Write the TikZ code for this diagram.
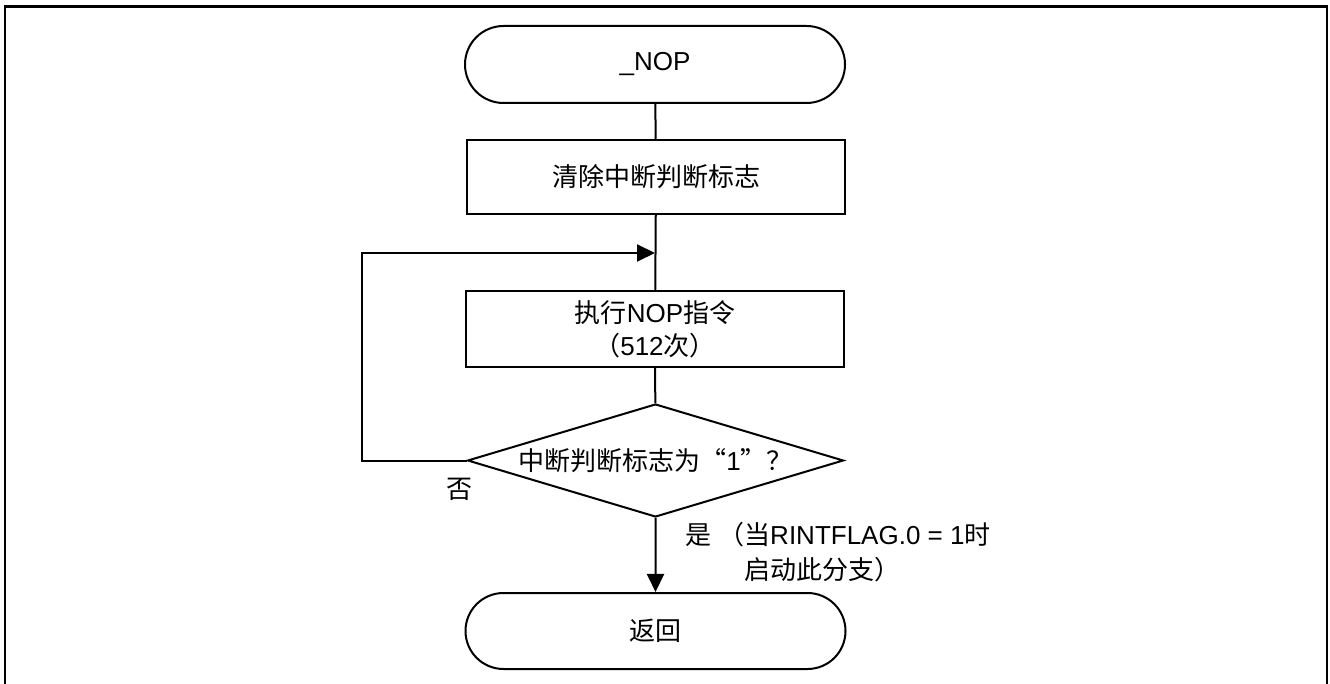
\documentclass[tikz,border=0pt]{standalone}
\usepackage{fontspec}
\setmainfont{Liberation Sans}
\newfontfamily\cjk{Noto Sans CJK SC}
\usetikzlibrary{shapes.geometric,shapes.misc,arrows.meta}
\begin{document}
\begin{tikzpicture}[x=1pt,y=-1pt, line width=2pt,
  term/.style={rounded rectangle, draw, minimum width=380pt, minimum height=77pt, inner sep=0pt},
  proc/.style={rectangle, draw, minimum width=378pt, minimum height=75pt, inner sep=0pt, align=center},
  dec/.style={diamond, draw, minimum width=376pt, minimum height=113pt, aspect=3.33, inner sep=0pt},
  lbl/.style={inner sep=0pt},
  arr/.style={-{Triangle[length=18pt,width=17pt]}},
  font=\fontsize{26}{33}\selectfont]
\useasboundingbox (0,0) rectangle (1330,684);
\draw[line width=2.2pt] (5,684) -- (5,6.5) -- (1327,6.5) -- (1327,684);
\node[term] (start) at (655,64.5) {\_NOP};
\node[proc, minimum height=74pt] (clr) at (656,177) {{\cjk 清除中断判断标志}};
\node[proc, minimum height=76pt] (exec) at (655,329) {{\cjk 执行}NOP{\cjk 指令}\\{\cjk （}512{\cjk 次）}};
\node[dec] (chk) at (655.5,460.5) {{\cjk 中断判断标志为“}1{\cjk ”？}};
\node[term, minimum height=76pt] (ret) at (655.5,631) {{\cjk 返回}};
\coordinate (j) at (655,253);
\coordinate (lp) at (362,460.5);
\node[lbl] (no) at (459,489) {{\cjk 否}};
\node[lbl, anchor=west] (yes1) at (684,535) {{\cjk 是} {\cjk （当}RINTFLAG.0 = 1{\cjk 时}};
\node[lbl, anchor=west] (yes2) at (743,570) {{\cjk 启动此分支）}};
\draw (start) -- (clr);
\draw (clr) -- (exec);
\draw (exec) -- (chk);
\draw[arr] (chk.west) -- (lp) |- (j);
\draw[arr] (chk) -- (ret);
\end{tikzpicture}
\end{document}
